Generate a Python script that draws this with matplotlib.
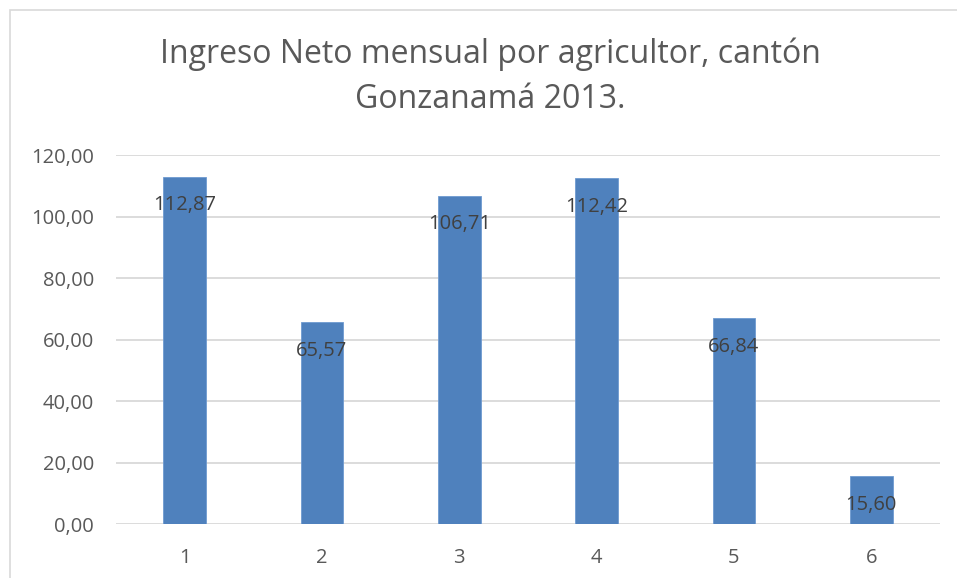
import matplotlib.pyplot as plt
from matplotlib.patches import Rectangle

# Data
categorias = ["1", "2", "3", "4", "5", "6"]
ingreso = [112.87, 65.57, 106.71, 112.42, 66.84, 15.60]
yticks = [0, 20, 40, 60, 80, 100, 120]

plt.rcParams['font.family'] = ['Open Sans', 'DejaVu Sans']

fig = plt.figure(figsize=(9.57, 5.78), dpi=100)
ax = fig.add_axes([0.1212, 0.0934, 0.8610, 0.6384])

x = range(len(categorias))
ax.bar(x, ingreso, width=0.31, color='#4F81BD', edgecolor='#6F9AD0', linewidth=0.6, zorder=3)

# data labels inside end
for xi, v in zip(x, ingreso):
    ax.annotate(f"{v:.2f}".replace('.', ','), (xi, v), xytext=(0, -20.5),
                textcoords='offset points', ha='center', va='center',
                fontsize=14.5, color='#404040', zorder=4)

ax.set_xlim(-0.5, len(categorias) - 0.5)
ax.set_ylim(0, 120)
ax.set_yticks(yticks)
ax.set_yticklabels([f"{t:.2f}".replace('.', ',') for t in yticks])
ax.set_xticks(list(x))
ax.set_xticklabels(categorias)
ax.tick_params(axis='both', length=0, labelsize=14.5, labelcolor='#595959')
ax.tick_params(axis='y', pad=16)
ax.tick_params(axis='x', pad=17)
ax.grid(axis='y', color='#d9d9d9', linewidth=1.3, zorder=0)
for s in ax.spines.values():
    s.set_visible(False)

fig.text(0.512, 0.867, "Ingreso Neto mensual por agricultor, cantón\nGonzanamá 2013.",
         ha='center', va='center', fontsize=23, color='#595959', linespacing=1.5)

# chart area border
fig.patches.append(Rectangle((10 / 957, -0.1), 1.2, 1.1 - 10 / 578, transform=fig.transFigure,
                             fill=False, edgecolor='#d9d9d9', linewidth=1.2))

fig.savefig("out.png", dpi=100)
